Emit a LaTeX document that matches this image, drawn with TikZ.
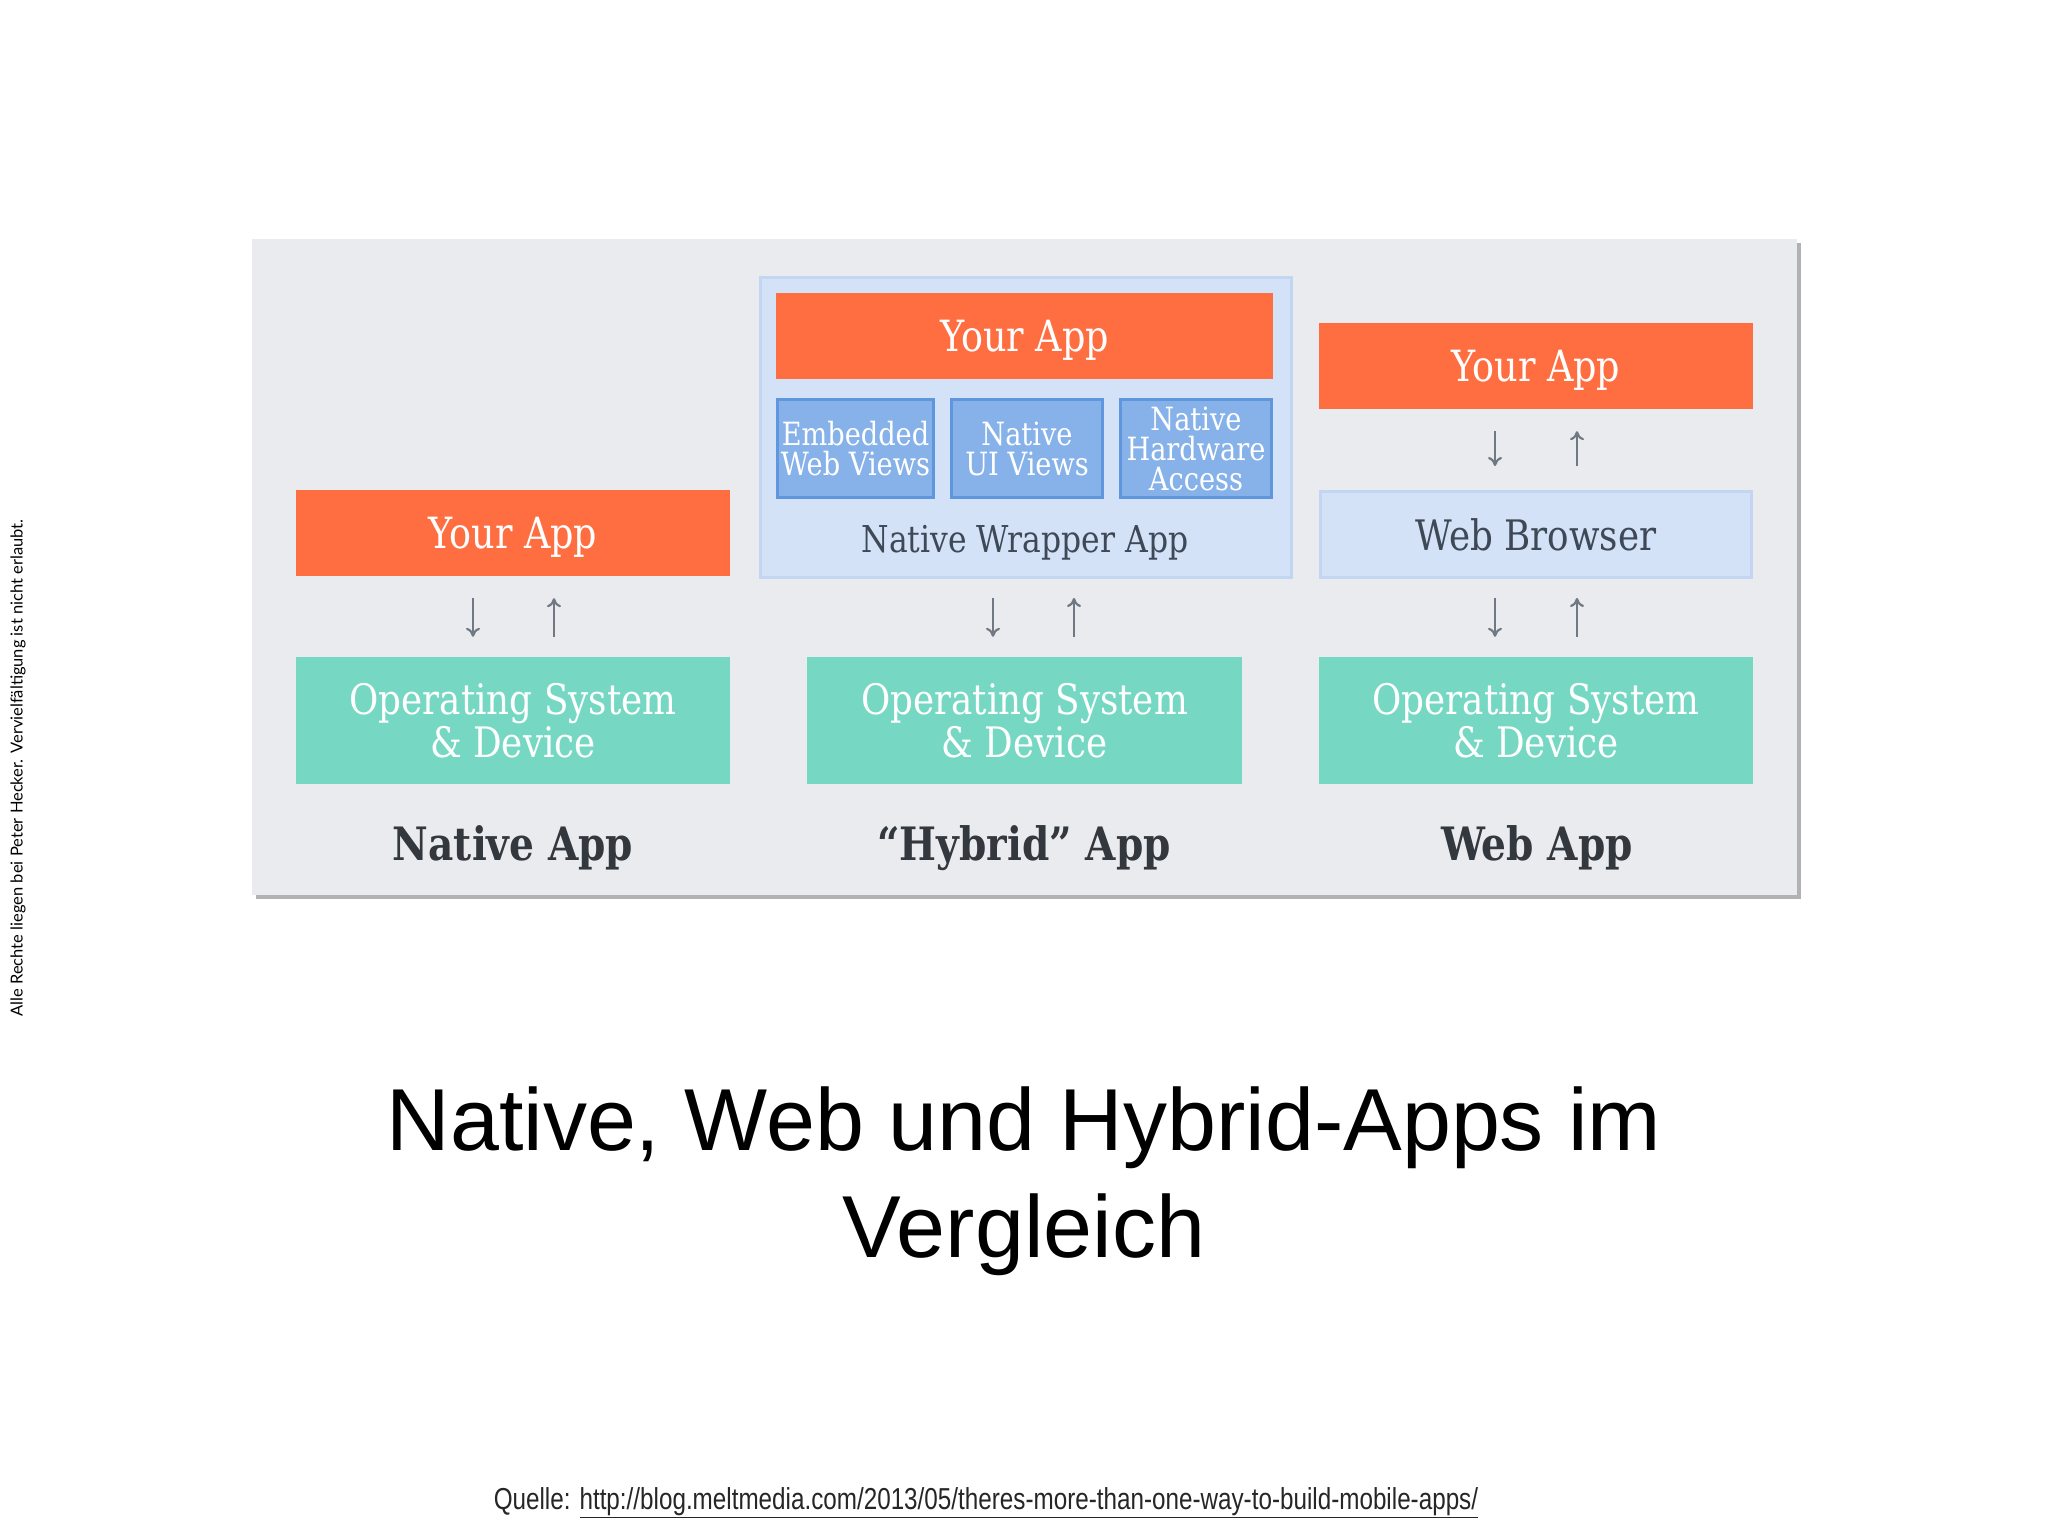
\documentclass[tikz,border=0pt]{standalone}
\usepackage{fontspec}
\setmainfont{Liberation Sans}
\newfontfamily\slab[FakeStretch=0.85]{DejaVu Serif}
\newfontfamily\notefont{Lato}
\newfontfamily\narrowfont[FakeStretch=0.8]{Liberation Sans}
\usetikzlibrary{positioning,calc,arrows.meta}

\definecolor{appred}{HTML}{FF6E41}
\definecolor{osgreen}{HTML}{76D8C3}
\definecolor{viewblue}{HTML}{86B2E9}
\definecolor{viewedge}{HTML}{5F96DE}
\definecolor{wrapblue}{HTML}{D3E2F7}
\definecolor{wrapedge}{HTML}{C3D6F1}
\definecolor{panelgray}{HTML}{EAEBEE}
\definecolor{inkgray}{HTML}{3E4856}
\definecolor{arrowgray}{HTML}{707884}
\definecolor{labelgray}{HTML}{33373E}

\tikzset{
  appbox/.style={fill=appred, text=white, inner sep=0pt, text depth=0pt,
    font=\slab\fontsize{43}{43}\selectfont},
  osbox/.style={fill=osgreen, text=white, inner sep=0pt, align=center,
    font=\slab\fontsize{42}{43}\selectfont},
  viewbox/.style={fill=viewblue, draw=viewedge, line width=3pt, text=white,
    inner sep=0pt, align=center, font=\slab\fontsize{32}{30}\selectfont},
  layerbox/.style={fill=wrapblue, draw=wrapedge, line width=3pt, text=inkgray,
    inner sep=0pt, font=\slab\fontsize{42}{42}\selectfont},
  kindlabel/.style={text=labelgray, font=\slab\bfseries\fontsize{46}{46}\selectfont},
  flow/.style={draw=arrowgray, line width=2.2pt, -{To[length=9pt,width=14pt]}},
}

\begin{document}
\begin{tikzpicture}[x=1pt,y=-1pt]
\useasboundingbox[fill=white] (0,0) rectangle (2048,1536);

% panel with shadow
\fill[black!30] (256,243) rectangle (1801,899);
\fill[panelgray] (252,239) rectangle (1797,895);

% native app
\node[appbox, minimum width=434pt, minimum height=86pt] (app1) at (513,533) {Your App};
\node[osbox, minimum width=434pt, minimum height=127pt] (os1) at (513,720.5) {Operating System\\\& Device};
\node[kindlabel] (lab1) at (513,848) {Native App};
\draw[flow] ($(app1.south)+(-40,22)$) -- ($(os1.north)+(-40,-20)$);
\draw[flow] ($(os1.north)+(41,-20)$) -- ($(app1.south)+(41,22)$);

% hybrid app
\node[layerbox, minimum width=531pt, minimum height=300pt, text depth=0pt] (wrap) at (1026,427.5) {};
\node[appbox, minimum width=497pt, minimum height=86pt] (app2) at (1024.5,336) {Your App};
\node[viewbox, minimum width=156pt, minimum height=98pt] (v1) at (855.5,448.5) {Embedded\\Web Views};
\node[viewbox, minimum width=151pt, minimum height=98pt] (v2) at (1027,448.5) {Native\\UI Views};
\node[viewbox, minimum width=151pt, minimum height=98pt] (v3) at (1196,448.5) {Native\\Hardware\\Access};
\node[text=inkgray, font=\slab\fontsize{37}{37}\selectfont] (wraptext) at (1025,543) {Native Wrapper App};
\node[osbox, minimum width=435pt, minimum height=127pt] (os2) at (1024.5,720.5) {Operating System\\\& Device};
\node[kindlabel] (lab2) at (1024,848) {“Hybrid” App};
\draw[flow] ($(wrap.south)+(-33,19)$) -- ($(os2.north)+(-31.5,-20)$);
\draw[flow] ($(os2.north)+(49.5,-20)$) -- ($(wrap.south)+(48,19)$);

% web app
\node[appbox, minimum width=434pt, minimum height=86pt] (app3) at (1536,366) {Your App};
\node[layerbox, minimum width=431pt, minimum height=86pt] (browser) at (1536,534.5) {Web Browser};
\node[osbox, minimum width=434pt, minimum height=127pt] (os3) at (1536,720.5) {Operating System\\\& Device};
\node[kindlabel] (lab3) at (1537,848) {Web App};
\draw[flow] ($(app3.south)+(-41,22)$) -- ($(browser.north)+(-41,-24)$);
\draw[flow] ($(browser.north)+(41,-24)$) -- ($(app3.south)+(41,22)$);
\draw[flow] ($(browser.south)+(-41,19)$) -- ($(os3.north)+(-41,-20)$);
\draw[flow] ($(os3.north)+(41,-20)$) -- ($(browser.south)+(41,19)$);

% title, source, side note
\node[align=center, font=\fontsize{88}{107}\selectfont] (title) at (1024,1181)
  {Native, Web und Hybrid-Apps im\\Vergleich};
\node[font=\narrowfont\fontsize{30.3}{30}\selectfont, text=black!85] (source) at (986,1503)
  {Quelle: \underline{http://blog.meltmedia.com/2013/05/theres-more-than-one-way-to-build-mobile-apps/}};
\node[rotate=90, font=\notefont\fontsize{16.5}{16.5}\selectfont] (note) at (18,768)
  {Alle Rechte liegen bei Peter Hecker. Vervielfältigung ist nicht erlaubt.};
\end{tikzpicture}
\end{document}
